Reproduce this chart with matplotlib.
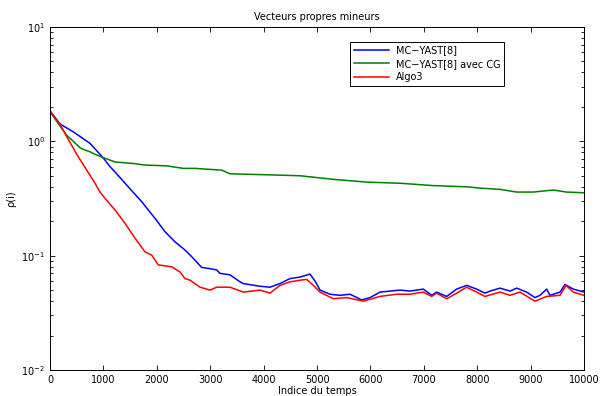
import matplotlib
matplotlib.use('Agg')
import matplotlib.pyplot as plt

# values (time index, rho(i))
t_blue = [0, 187, 437, 749, 843, 936, 1030, 1124, 1217, 1466, 1716, 1966, 2154, 2341,
          2528, 2653, 2840, 2996, 3121, 3184, 3371, 3558, 3620, 3933, 4120, 4307, 4494,
          4682, 4869, 4963, 5056, 5243, 5431, 5618, 5836, 5993, 6180, 6367, 6554, 6742,
          6991, 7147, 7241, 7428, 7615, 7803, 7990, 8146, 8240, 8427, 8614, 8739, 8926,
          9082, 9176, 9301, 9363, 9551, 9644, 9800, 10000]
rho_blue = [1.85, 1.42, 1.21, 0.96, 0.86, 0.77, 0.685, 0.60, 0.54, 0.40, 0.297, 0.212,
            0.162, 0.132, 0.112, 0.098, 0.079, 0.077, 0.075, 0.070, 0.068, 0.059, 0.057,
            0.054, 0.053, 0.057, 0.063, 0.065, 0.069, 0.060, 0.050, 0.046, 0.045, 0.046,
            0.041, 0.043, 0.048, 0.049, 0.050, 0.049, 0.051, 0.045, 0.048, 0.044, 0.051,
            0.055, 0.051, 0.047, 0.049, 0.052, 0.049, 0.052, 0.048, 0.043, 0.045, 0.051,
            0.045, 0.048, 0.056, 0.051, 0.048]

t_green = [0, 187, 312, 437, 562, 624, 749, 843, 1000, 1217, 1560, 1779, 2185, 2497, 2715,
           3215, 3371, 4057, 4682, 5306, 5930, 6554, 7179, 7803, 8052, 8427, 8739, 9051,
           9426, 9675, 10000]
rho_green = [1.82, 1.36, 1.13, 1.0, 0.88, 0.85, 0.81, 0.77, 0.72, 0.66, 0.64, 0.62, 0.61,
             0.58, 0.58, 0.56, 0.52, 0.51, 0.50, 0.465, 0.44, 0.43, 0.41, 0.40, 0.39, 0.38,
             0.36, 0.36, 0.375, 0.36, 0.355]

t_red = [0, 187, 312, 437, 500, 687, 843, 936, 1030, 1217, 1404, 1592, 1779, 1904, 2028,
         2278, 2434, 2528, 2622, 2809, 2996, 3121, 3371, 3620, 3933, 4120, 4307, 4494,
         4682, 4807, 4931, 5056, 5305, 5555, 5867, 6180, 6492, 6742, 6991, 7147, 7241,
         7428, 7615, 7803, 7990, 8146, 8427, 8614, 8801, 9082, 9301, 9551, 9663, 9800,
         10000]
rho_red = [1.82, 1.42, 1.10, 0.87, 0.77, 0.56, 0.43, 0.36, 0.317, 0.251, 0.192, 0.142,
           0.108, 0.101, 0.083, 0.080, 0.072, 0.063, 0.061, 0.053, 0.050, 0.053, 0.053,
           0.048, 0.050, 0.047, 0.055, 0.059, 0.061, 0.062, 0.055, 0.048, 0.042, 0.043,
           0.040, 0.044, 0.046, 0.046, 0.048, 0.044, 0.047, 0.042, 0.047, 0.053, 0.048,
           0.044, 0.048, 0.045, 0.048, 0.040, 0.044, 0.045, 0.055, 0.048, 0.045]

labels = ['MC\u2212YAST[8]', 'MC\u2212YAST[8] avec CG', 'Algo3']

plt.rcParams['font.family'] = ['DejaVu Sans']
plt.rcParams['font.size'] = 7

fig = plt.figure(figsize=(6, 3.96), dpi=100)
ax = fig.add_axes([50 / 600, 26 / 396, 534 / 600, 343 / 396])

ax.plot(t_blue, rho_blue, color='#0000ff', lw=1.1, label=labels[0])
ax.plot(t_green, rho_green, color='#008000', lw=1.1, label=labels[1])
ax.plot(t_red, rho_red, color='#ff0000', lw=1.1, label=labels[2])

ax.set_yscale('log')
ax.set_xlim(0, 10000)
ax.set_ylim(1e-2, 1e1)
ax.set_xticks(range(0, 10001, 1000))

ax.tick_params(which='both', direction='in', top=True, right=True, labelsize=7, width=0.6)
ax.tick_params(which='major', length=3.5)
ax.tick_params(which='minor', length=2)
for s in ax.spines.values():
    s.set_linewidth(0.7)

ax.set_title('Vecteurs propres mineurs', fontsize=7, pad=5)
ax.set_xlabel('Indice du temps', fontsize=7, labelpad=1)
ax.set_ylabel('\u03c1(i)', fontsize=7, labelpad=4)

leg = ax.legend(loc='upper left', bbox_to_anchor=(0.562, 0.956), borderaxespad=0,
                fancybox=False, framealpha=1, edgecolor='black', fontsize=7,
                handlelength=3.6, labelspacing=0.35, borderpad=0.35)
leg.get_frame().set_linewidth(0.7)

fig.savefig('out.png', dpi=100)
